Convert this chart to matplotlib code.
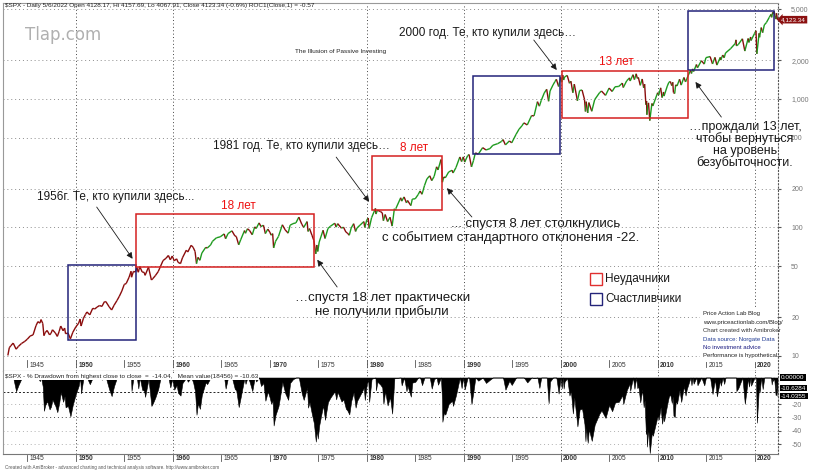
import numpy as np
import matplotlib.pyplot as plt
import matplotlib.transforms as mtrans
from matplotlib.collections import LineCollection
from matplotlib.patches import Rectangle

plt.rcParams['font.family'] = ['Liberation Sans', 'DejaVu Sans']

# S&P 500 closes (decimal year, close)
years = np.array([
    1943.00, 1943.15, 1943.30, 1943.55, 1943.85, 1944.10, 1944.40, 1944.75, 1945.00, 1945.30,
    1945.60, 1945.90, 1946.10, 1946.30, 1946.42, 1946.60, 1946.72, 1946.85, 1947.05, 1947.30,
    1947.45, 1947.60, 1947.90, 1948.10, 1948.30, 1948.45, 1948.70, 1948.85, 1948.95, 1949.20,
    1949.45, 1949.70, 1950.00, 1950.30, 1950.45, 1950.55, 1950.80, 1951.00, 1951.15, 1951.45,
    1951.75, 1951.95, 1952.20, 1952.45, 1952.70, 1952.95, 1953.10, 1953.45, 1953.70, 1953.95,
    1954.25, 1954.50, 1954.75, 1955.00, 1955.20, 1955.50, 1955.70, 1955.75, 1955.95, 1956.15,
    1956.30, 1956.45, 1956.60, 1956.85, 1957.05, 1957.15, 1957.50, 1957.80, 1957.95, 1958.20,
    1958.50, 1958.75, 1959.00, 1959.30, 1959.55, 1959.75, 1959.95, 1960.15, 1960.40, 1960.55,
    1960.80, 1961.00, 1961.40, 1961.55, 1961.90, 1962.10, 1962.30, 1962.45, 1962.60, 1962.80,
    1963.00, 1963.40, 1963.55, 1963.90, 1964.10, 1964.50, 1964.90, 1965.30, 1965.45, 1965.70,
    1966.10, 1966.40, 1966.55, 1966.80, 1967.00, 1967.40, 1967.50, 1967.70, 1967.90, 1968.20,
    1968.45, 1968.60, 1968.90, 1969.10, 1969.35, 1969.55, 1969.80, 1970.00, 1970.15, 1970.30,
    1970.40, 1970.60, 1970.90, 1971.05, 1971.30, 1971.60, 1971.90, 1972.10, 1972.40, 1972.70,
    1973.00, 1973.30, 1973.50, 1973.85, 1973.95, 1974.10, 1974.35, 1974.55, 1974.75, 1974.85,
    1974.95, 1975.10, 1975.50, 1975.70, 1976.00, 1976.25, 1976.70, 1976.85, 1977.00, 1977.40,
    1977.60, 1977.85, 1978.00, 1978.20, 1978.40, 1978.65, 1978.85, 1979.00, 1979.30, 1979.70,
    1979.80, 1980.00, 1980.15, 1980.25, 1980.50, 1980.90, 1980.95, 1981.10, 1981.40, 1981.60,
    1981.72, 1981.90, 1982.15, 1982.40, 1982.62, 1982.85, 1983.00, 1983.50, 1983.60, 1983.85,
    1984.10, 1984.20, 1984.55, 1984.70, 1985.00, 1985.30, 1985.50, 1985.70, 1985.95, 1986.20,
    1986.50, 1986.70, 1986.95, 1987.20, 1987.35, 1987.65, 1987.76, 1987.80, 1987.95, 1988.10,
    1988.45, 1988.80, 1988.90, 1989.20, 1989.60, 1989.78, 1989.95, 1990.10, 1990.40, 1990.55,
    1990.80, 1991.00, 1991.20, 1991.50, 1991.95, 1992.30, 1992.70, 1993.00, 1993.50, 1993.90,
    1994.05, 1994.30, 1994.70, 1994.95, 1995.40, 1995.70, 1995.99, 1996.20, 1996.55, 1996.99,
    1997.25, 1997.60, 1997.80, 1997.99, 1998.30, 1998.55, 1998.75, 1998.90, 1999.20, 1999.40,
    1999.55, 1999.78, 1999.99, 2000.10, 2000.21, 2000.30, 2000.40, 2000.67, 2000.90, 2001.05,
    2001.25, 2001.40, 2001.72, 2001.95, 2002.20, 2002.45, 2002.55, 2002.62, 2002.78, 2002.90,
    2003.20, 2003.50, 2003.99, 2004.20, 2004.62, 2004.99, 2005.30, 2005.60, 2005.99, 2006.35,
    2006.45, 2006.80, 2007.10, 2007.16, 2007.45, 2007.60, 2007.78, 2007.90, 2008.00, 2008.20,
    2008.40, 2008.55, 2008.65, 2008.78, 2008.85, 2008.88, 2008.99, 2009.05, 2009.18, 2009.40,
    2009.50, 2009.99, 2010.10, 2010.30, 2010.45, 2010.60, 2010.65, 2010.99, 2011.15, 2011.30,
    2011.45, 2011.55, 2011.62, 2011.75, 2011.85, 2011.99, 2012.25, 2012.42, 2012.70, 2012.87,
    2012.99, 2013.38, 2013.48, 2013.60, 2013.70, 2013.99, 2014.10, 2014.50, 2014.80, 2014.97,
    2015.40, 2015.65, 2015.90, 2016.10, 2016.45, 2016.50, 2016.70, 2016.85, 2016.99, 2017.50,
    2017.99, 2018.07, 2018.11, 2018.30, 2018.73, 2018.98, 2019.32, 2019.40, 2019.58, 2019.62,
    2019.99, 2020.13, 2020.22, 2020.45, 2020.50, 2020.67, 2020.82, 2020.99, 2021.20, 2021.50,
    2021.68, 2021.75, 2021.85, 2021.90, 2022.00, 2022.15, 2022.19, 2022.20, 2022.24, 2022.35])
closes = np.array([
    10.1, 11.6, 12.0, 12.6, 11.3, 11.9, 12.5, 13.0, 13.5, 14.3,
    14.6, 17.2, 18.5, 18.0, 19.2, 17.9, 14.4, 15.2, 15.8, 14.6,
    15.0, 16.0, 15.1, 14.2, 15.6, 17.1, 15.7, 16.5, 14.9, 15.1,
    13.6, 15.3, 16.8, 18.0, 19.4, 17.1, 19.7, 21.0, 22.0, 20.9,
    23.5, 23.2, 24.0, 24.7, 24.3, 26.4, 26.5, 24.1, 22.8, 24.8,
    27.0, 29.2, 32.0, 36.0, 36.6, 41.0, 45.6, 41.0, 45.5, 45.0,
    48.8, 44.8, 49.6, 45.0, 44.7, 42.4, 49.1, 39.0, 40.0, 42.1,
    45.3, 50.0, 55.2, 57.5, 60.5, 56.0, 59.9, 55.0, 57.0, 53.5,
    52.3, 58.0, 66.5, 64.4, 72.6, 70.0, 65.0, 52.3, 58.5, 55.5,
    63.1, 70.0, 69.0, 73.0, 78.0, 83.0, 84.5, 89.0, 81.6, 89.5,
    94.1, 86.0, 85.0, 73.2, 80.0, 94.5, 90.0, 97.6, 95.0, 87.7,
    101.0, 98.0, 108.4, 101.5, 104.0, 89.5, 97.0, 92.0, 87.0, 89.5,
    69.3, 78.0, 85.0, 92.0, 104.8, 95.5, 90.2, 104.0, 107.0, 108.5,
    120.2, 106.0, 100.0, 111.0, 93.0, 98.0, 87.0, 79.0, 62.3, 73.0,
    65.0, 77.0, 95.0, 82.0, 98.0, 102.0, 107.8, 100.5, 107.0, 98.5,
    100.5, 92.0, 90.5, 86.9, 99.0, 106.9, 93.0, 99.0, 104.0, 111.0,
    99.9, 114.0, 118.4, 98.2, 119.0, 140.5, 127.0, 136.0, 133.0, 130.0,
    112.8, 126.0, 111.0, 120.0, 102.4, 140.0, 140.0, 170.0, 160.0, 172.6,
    155.0, 162.0, 147.8, 166.0, 167.0, 180.0, 192.0, 181.0, 211.0, 238.0,
    252.0, 231.0, 249.0, 296.0, 280.0, 336.8, 282.0, 224.8, 247.0, 243.0,
    270.0, 278.0, 265.0, 292.0, 353.0, 325.0, 353.4, 322.0, 361.0, 368.9,
    295.5, 330.0, 380.0, 371.0, 417.0, 400.0, 410.0, 435.0, 448.0, 466.0,
    482.0, 438.0, 470.0, 455.0, 530.0, 580.0, 615.0, 650.0, 626.0, 740.0,
    737.0, 950.0, 876.0, 970.0, 1110.0, 1186.0, 957.0, 1150.0, 1280.0, 1360.0,
    1418.0, 1247.0, 1469.0, 1350.0, 1527.0, 1400.0, 1480.0, 1520.0, 1320.0, 1370.0,
    1115.0, 1300.0, 966.0, 1160.0, 1170.0, 990.0, 797.0, 950.0, 777.0, 935.0,
    800.0, 985.0, 1112.0, 1150.0, 1063.0, 1212.0, 1140.0, 1240.0, 1248.0, 1325.0,
    1223.0, 1380.0, 1455.0, 1375.0, 1540.0, 1410.0, 1565.0, 1440.0, 1468.0, 1273.0,
    1426.0, 1215.0, 1300.0, 900.0, 960.0, 752.0, 903.0, 930.0, 677.0, 920.0,
    880.0, 1115.0, 1070.0, 1217.0, 1022.0, 1130.0, 1050.0, 1258.0, 1343.0, 1363.0,
    1265.0, 1345.0, 1119.0, 1099.0, 1285.0, 1258.0, 1419.0, 1278.0, 1465.0, 1353.0,
    1426.0, 1669.0, 1573.0, 1709.0, 1630.0, 1848.0, 1741.0, 1978.0, 1862.0, 2090.0,
    2130.0, 1867.0, 2100.0, 1829.0, 2100.0, 2000.0, 2190.0, 2085.0, 2270.0, 2450.0,
    2690.0, 2873.0, 2581.0, 2640.0, 2930.0, 2351.0, 2945.0, 2744.0, 3025.0, 2840.0,
    3230.0, 3386.0, 2237.0, 3230.0, 3010.0, 3580.0, 3270.0, 3756.0, 3910.0, 4297.0,
    4537.0, 4300.0, 4705.0, 4580.0, 4796.0, 4170.0, 4388.0, 4170.0, 4631.0, 4123.34])

# boxes: (start year, end year, low, high)
loser_boxes = [(1956.17, 1974.59, 49.3, 127.0), (1980.56, 1987.76, 137.0, 360.0), (2000.10, 2013.07, 711.0, 1652.0)]
loser_labels = ['18 лет', '8 лет', '13 лет']
loser_label_pos = [(1966.8, 147.0), (1984.9, 414.0), (2005.7, 1932.0)]
winner_boxes = [(1949.18, 1956.17, 13.3, 51.0), (1990.95, 1999.90, 373.0, 1510.0), (2013.17, 2022.02, 1682.0, 4840.0)]

price_levels = [10, 20, 50, 100, 200, 500, 1000, 2000, 5000]
price_labels = ['10', '20', '50', '100', '200', '500', '1,000', '2,000', '5,000']
dd_levels = [-20, -30, -40, -50]
dd_mean = -10.63
last_close = 4123.34
year_ticks = list(range(1945, 2021, 5))
grid_years = [1950, 1960, 1980, 1990, 2000, 2010, 2020]

W, H = 816, 474
fig = plt.figure(figsize=(W / 100, H / 100), dpi=100)
ax = fig.add_axes([3 / W, 1 - 371 / H, 775 / W, 368 / H])
ax2 = fig.add_axes([3 / W, 1 - 454 / H, 775 / W, 83 / H])


def px(x, y):
    # pixel position -> main axes fraction
    return (x - 3) / 775, (371 - y) / 368


green = '#1e9a1e'
red = '#8a0c0c'

# ---- price panel ----
ax.set_yscale('log')
ax.set_xlim(1942.5, 2022.4)
ax.set_ylim(10 ** (1 - 15 / 128.6), 10 ** (1 + 353 / 128.6))

for v in price_levels:
    ax.axhline(v, color='#8c8c8c', lw=0.7, ls=(0, (1, 3)), zorder=0)
for yr in grid_years:
    ax.axvline(yr, color='#444444', lw=0.7, ls=(0, (1, 2.5)), zorder=0)

pts = np.column_stack([years, closes])
segs = np.stack([pts[:-1], pts[1:]], axis=1)
cols = np.where(closes[1:] >= closes[:-1], green, red)
cols[years[1:] < 1962] = red
ax.add_collection(LineCollection(segs, colors=cols, linewidths=1.0, zorder=3))

for (x0, x1, y0, y1) in winner_boxes:
    ax.add_patch(Rectangle((x0, y0), x1 - x0, y1 - y0, fill=False, ec='#232379', lw=1.1, zorder=4))
for (x0, x1, y0, y1), lab, (lx, ly) in zip(loser_boxes, loser_labels, loser_label_pos):
    ax.add_patch(Rectangle((x0, y0), x1 - x0, y1 - y0, fill=False, ec='#d42020', lw=1.1, zorder=4))
    ax.text(lx, ly, lab, color='#ee1111', fontsize=8.5, ha='center', va='center')

txt = dict(color='#1a1a1a', va='center')
arrow = dict(arrowstyle='-|>', color='#1a1a1a', lw=0.6, mutation_scale=9, shrinkA=0, shrinkB=0)

ax.text(1946.0, 172, '1956г. Те, кто купили здесь...', ha='left', fontsize=8.5, **txt)
ax.annotate('', xy=(1955.86, 57), xytext=(1952.16, 144), arrowprops=arrow)
ax.text(1981.6, 28.3, '…спустя 18 лет практически', ha='center', fontsize=9.5, **txt)
ax.text(1981.6, 22.3, 'не получили прибыли', ha='center', fontsize=9.5, **txt)
ax.annotate('', xy=(1974.9, 56), xytext=(1976.95, 34.4), arrowprops=arrow)

ax.text(1964.1, 430, '1981 год. Те, кто купили здесь…', ha='left', fontsize=8.5, **txt)
ax.annotate('', xy=(1980.25, 158), xytext=(1976.85, 352), arrowprops=arrow)
ax.text(1988.7, 106, '... спустя 8 лет столкнулись', ha='left', fontsize=9.5, **txt)
ax.text(1981.6, 82.7, 'с событием стандартного отклонения -22.', ha='left', fontsize=9.5, **txt)
ax.annotate('', xy=(1988.27, 202), xytext=(1990.84, 120.5), arrowprops=arrow)

ax.text(1983.33, 3250, '2000 год. Те, кто купили здесь…', ha='left', fontsize=8.5, **txt)
ax.annotate('', xy=(1999.59, 1675), xytext=(1997.22, 2865), arrowprops=arrow)
for lab, yv in zip(['…прождали 13 лет,', 'чтобы вернуться', 'на уровень', 'безубыточности.'],
                   [603, 487, 393, 317]):
    ax.text(2019.0, yv, lab, ha='center', clip_on=False, zorder=6, fontsize=9, **txt)
ax.annotate('', xy=(2013.89, 1352), xytext=(2016.56, 721), arrowprops=arrow)

# legend
for yy, c, lab in [(279, '#e03030', 'Неудачники'), (299, '#24247a', 'Счастливчики')]:
    x0, y0 = px(590, yy + 6)
    x1, y1 = px(602, yy - 6)
    ax.add_patch(Rectangle((x0, y0), x1 - x0, y1 - y0, transform=ax.transAxes, fill=False, ec=c, lw=1.0))
    ax.text(*px(605, yy), lab, transform=ax.transAxes, fontsize=8.5, color='#1a1a1a', va='center')

# credits block
credit_lines = ['Price Action Lab Blog', 'www.priceactionlab.com/Blog/', 'Chart created with Amibroker',
                'Data source: Norgate Data', 'No investment advice', 'Performance is hypothetical.']
credit_cols = ['#222222', '#222222', '#333333', '#1f3a93', '#1a1a80', '#222222']
x0, y0 = px(700, 362)
x1, y1 = px(775, 309)
ax.add_patch(Rectangle((x0, y0), x1 - x0, y1 - y0, transform=ax.transAxes, fc='white', ec='none', zorder=5))
for i, (lab, c) in enumerate(zip(credit_lines, credit_cols)):
    ax.text(*px(703, 314 + i * 8.4), lab, transform=ax.transAxes, fontsize=4.3, color=c, va='center', zorder=6)

ax.text(*px(25, 35), 'Tlap.com', transform=ax.transAxes, fontsize=12, color='#b0b0b0', va='center',
        family='DejaVu Sans')
ax.text(*px(341, 52), 'The Illusion of Passive Investing', transform=ax.transAxes, fontsize=4.6,
        color='#222222', ha='center', va='center')
ax.text(*px(5, 6), '$SPX - Daily 5/6/2022 Open 4128.17, Hi 4157.69, Lo 4067.91, Close 4123.34 (-0.6%) '
        'ROC1(Close,1) = -0.57', transform=ax.transAxes, fontsize=4.6, color='#222222', va='center')

# axes cosmetics
ax.set_xticks([])
ax.yaxis.tick_right()
ax.set_yticks(price_levels)
ax.set_yticklabels(price_labels)
ax.yaxis.set_minor_locator(plt.NullLocator())
ax.tick_params(axis='y', labelsize=5, labelcolor='#777777', color='#555555', length=2.5, pad=7)
for s in ['top', 'left']:
    ax.spines[s].set_color('#999999')
    ax.spines[s].set_linewidth(0.8)
ax.spines['bottom'].set_color('#777777')
ax.spines['right'].set_linestyle((0, (1, 2)))
ax.spines['right'].set_color('#555555')

xt = ax.get_xaxis_transform()
for yr in year_ticks:
    ax.plot([yr, yr], [0.012, 0.03], transform=xt, color='#555555', lw=0.6, clip_on=False)
    ax.text(yr + 0.25, 0.0136, str(yr), transform=xt, fontsize=4.8, color='#333333', va='center',
            fontweight='bold' if yr % 10 == 0 else 'normal')

ytr = mtrans.blended_transform_factory(ax.transAxes, ax.transData)
ax.text(1.004, last_close, '4,123.34', transform=ytr, fontsize=4.6, color='white', va='center', ha='left',
        bbox=dict(boxstyle='larrow,pad=0.2', fc='#8b1010', ec='none'))

# ---- drawdown panel ----
dd = (closes / np.maximum.accumulate(closes) - 1) * 100
ax2.set_xlim(1942.5, 2022.4)
ax2.set_ylim(-57.5, 4.9)
for v in dd_levels:
    ax2.axhline(v, color='#444444' if v == -30 else '#b0b0b0', lw=0.7, ls=(0, (1, 3)), zorder=0)
ax2.axhline(dd_mean, color='#222222', lw=0.7, ls=(0, (2, 2)), zorder=0)
for yr in grid_years:
    ax2.axvline(yr, color='#444444', lw=0.7, ls=(0, (1, 2.5)), zorder=0)
ax2.fill_between(years, dd, 0, color='black', lw=0.4, zorder=2)

ax2.set_xticks([])
ax2.yaxis.tick_right()
ax2.set_yticks(dd_levels)
ax2.set_yticklabels([str(v) for v in dd_levels])
ax2.tick_params(axis='y', labelsize=5, labelcolor='#777777', color='#555555', length=2.5, pad=7)
ax2.spines['top'].set_visible(False)
ax2.spines['left'].set_color('#999999')
ax2.spines['bottom'].set_color('#777777')
ax2.spines['right'].set_linestyle((0, (1, 2)))
ax2.spines['right'].set_color('#555555')

xt2 = ax2.get_xaxis_transform()
for yr in year_ticks:
    ax2.plot([yr, yr], [-0.01, -0.08], transform=xt2, color='#555555', lw=0.6, clip_on=False)
    ax2.text(yr + 0.25, -0.05, str(yr), transform=xt2, fontsize=4.8, color='#333333', va='center',
             fontweight='bold' if yr % 10 == 0 else 'normal')

ytr2 = mtrans.blended_transform_factory(ax2.transAxes, ax2.transData)
for yv, lab in [(0, '0.00000'), (-7.9, '-10.6284'), (-13.9, '-14.0355')]:
    ax2.text(1.004, yv, lab, transform=ytr2, fontsize=4.6, color='white', va='center', ha='left',
             bbox=dict(boxstyle='square,pad=0.15', fc='black', ec='none'))

ax2.text(0.0026, 0.93, '$SPX - % Drawdown from highest close to close  =  -14.04,   Mean value(18456) = -10.63',
         transform=ax2.transAxes, fontsize=4.6, color='#222222', va='center',
         bbox=dict(boxstyle='square,pad=0.1', fc='white', ec='none'), zorder=5)

fig.text(5 / W, 1 - 467 / H, 'Created with AmiBroker - advanced charting and technical analysis software. '
         'http://www.amibroker.com', fontsize=3.3, color='#555555', va='center')

fig.savefig('out.png', dpi=100)
